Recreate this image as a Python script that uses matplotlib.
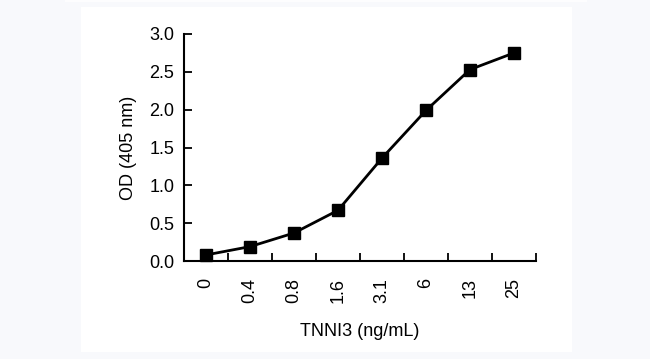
import matplotlib
matplotlib.use("Agg")
import matplotlib.pyplot as plt
from matplotlib.patches import Rectangle

categories = ["0", "0.4", "0.8", "1.6", "3.1", "6", "13", "25"]
od_values = [0.08, 0.19, 0.37, 0.67, 1.36, 1.99, 2.53, 2.75]
y_ticks = [0.0, 0.5, 1.0, 1.5, 2.0, 2.5, 3.0]

plt.rcParams['font.family'] = ['Liberation Sans', 'DejaVu Sans']

fig = plt.figure(figsize=(6.5, 3.59), dpi=100)
fig.patch.set_facecolor('#f8f9fc')
# white panel
fig.add_artist(Rectangle((81/650, 1 - 352/359), (572-81)/650, (352-7)/359,
                         transform=fig.transFigure, facecolor='white', edgecolor='none', zorder=0))
fig.add_artist(Rectangle((65/650, 1 - 2/359), (587-65)/650, 2/359,
                         transform=fig.transFigure, facecolor='#fdfdfe', edgecolor='none', zorder=0))

ax = fig.add_axes([184/650, 1 - 261/359, (536-184)/650, (261-34)/359])
ax.set_facecolor('none')

x = list(range(len(categories)))
ax.plot(x, od_values, color='black', lw=2.0, marker='s', markersize=8, zorder=3, clip_on=False)

ax.set_xlim(-0.5, len(categories) - 0.5)
ax.set_ylim(0, 3.0)
ax.set_yticks(y_ticks)
ax.set_yticklabels([f"{v:.1f}" for v in y_ticks], fontsize=13)
ax.set_xticks(x)
ax.set_xticklabels(categories, rotation=90, fontsize=13)
ax.tick_params(axis='x', length=0, pad=12)
ax.set_xticks([i + 0.5 for i in x], minor=True)
ax.tick_params(axis='x', which='minor', direction='in', length=6, width=1.3)
ax.tick_params(axis='y', direction='in', length=6, width=1.3, pad=7)

for s in ['top', 'right']:
    ax.spines[s].set_visible(False)
for s in ['left', 'bottom']:
    ax.spines[s].set_linewidth(1.5)

ax.set_ylabel("OD (405 nm)", fontsize=13, labelpad=9)
ax.set_xlabel("TNNI3 (ng/mL)", fontsize=13, labelpad=15)

fig.savefig("out.png", dpi=100, facecolor=fig.get_facecolor())
